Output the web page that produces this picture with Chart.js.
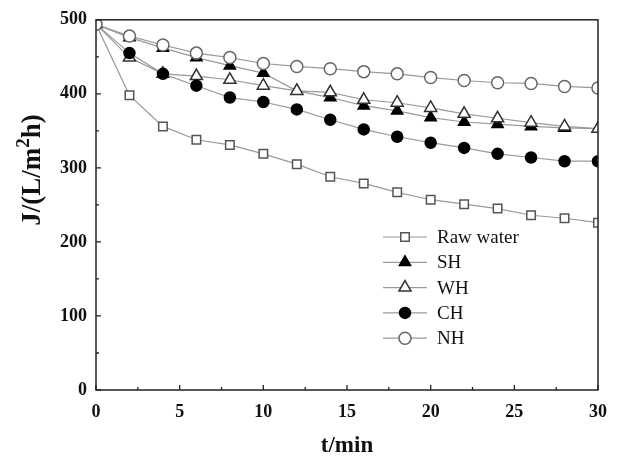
<!DOCTYPE html>
<html>
<head>
<meta charset="utf-8">
<script src="https://cdn.jsdelivr.net/npm/chart.js@4"></script>
<style>
  html, body { margin: 0; padding: 0; background: #fff; }
  #wrap { width: 619px; height: 457px; }
</style>
</head>
<body>
<div id="wrap"><canvas id="myChart"></canvas></div>
<script>
// time points (min)
const time = [0, 2, 4, 6, 8, 10, 12, 14, 16, 18, 20, 22, 24, 26, 28, 30];

// flux J, L/(m2 h)
const rawWater = [494, 398, 356, 338, 331, 319, 305, 288, 279, 267, 257, 251, 245, 236, 232, 226];
const sh = [494, 476, 462, 449, 438, 428, 404, 395, 384, 377, 368, 362, 359, 356, 354, 353];
const wh = [494, 449, 427, 424, 419, 411, 404, 402, 392, 388, 381, 373, 367, 361, 356, 353];
const ch = [494, 455, 427, 411, 395, 389, 379, 365, 352, 342, 334, 327, 319, 314, 309, 309];
const nh = [494, 478, 466, 455, 449, 441, 437, 434, 430, 427, 422, 418, 415, 414, 410, 408];

const xTicks = [0, 5, 10, 15, 20, 25, 30];
const yTicks = [0, 100, 200, 300, 400, 500];

const lineGrey = '#9a9a9a';
const serif = '"Liberation Serif", "Times New Roman", serif';

function series(label, values, style, radius, fill, edge, order) {
    return {
        label: label,
        data: values.map((v, i) => ({x: time[i], y: v})),
        borderColor: lineGrey,
        borderWidth: 1.2,
        pointStyle: style,
        pointRadius: radius,
        pointBackgroundColor: fill,
        pointBorderColor: edge,
        pointBorderWidth: 1.5,
        tension: 0,
        order: order
    };
}

// lower order ends up on top
const datasets = [
    series('Raw water', rawWater, 'rect', 6, '#fff', '#555', 5),
    series('SH', sh, 'triangle', 6.5, '#000', '#000', 4),
    series('WH', wh, 'triangle', 7, '#fff', '#333', 3),
    series('CH', ch, 'circle', 5.5, '#000', '#000', 2),
    series('NH', nh, 'circle', 6, '#fff', '#666', 1)
];

// frame, inward ticks, axis titles and the in-plot legend
const decor = {
    id: 'decor',
    afterDraw(chart) {
        const ctx = chart.ctx;
        const a = chart.chartArea;
        const xs = chart.scales.x, ys = chart.scales.y;
        ctx.save();
        ctx.strokeStyle = '#222';
        ctx.lineWidth = 1.5;
        ctx.strokeRect(a.left, a.top, a.right - a.left, a.bottom - a.top);

        ctx.lineWidth = 1.3;
        ctx.beginPath();
        for (let v = 0; v <= 30; v += 2.5) {
            const px = xs.getPixelForValue(v);
            const len = v % 5 === 0 ? 5 : 3;
            ctx.moveTo(px, a.bottom);
            ctx.lineTo(px, a.bottom - len);
        }
        for (let v = 0; v <= 500; v += 50) {
            const py = ys.getPixelForValue(v);
            const len = v % 100 === 0 ? 5 : 3;
            ctx.moveTo(a.left, py);
            ctx.lineTo(a.left + len, py);
        }
        ctx.stroke();

        // x title
        ctx.fillStyle = '#111';
        ctx.font = 'bold 23px ' + serif;
        ctx.textAlign = 'center';
        ctx.textBaseline = 'middle';
        ctx.fillText('t/min', (a.left + a.right) / 2, 446);

        // y title with superscript 2
        ctx.save();
        ctx.translate(30, 170);
        ctx.rotate(-Math.PI / 2);
        ctx.textAlign = 'left';
        ctx.textBaseline = 'alphabetic';
        const big = 'bold 27px ' + serif, small = 'bold 19px ' + serif;
        ctx.font = big;
        const w1 = ctx.measureText('J/(L/m').width;
        const w3 = ctx.measureText('h)').width;
        ctx.font = small;
        const w2 = ctx.measureText('2').width;
        let x0 = -(w1 + w2 + w3) / 2;
        const base = 10;
        ctx.font = big;
        ctx.fillText('J/(L/m', x0, base);
        ctx.font = small;
        ctx.fillText('2', x0 + w1, base - 11);
        ctx.font = big;
        ctx.fillText('h)', x0 + w1 + w2, base);
        ctx.restore();

        // legend
        ctx.font = '19px ' + serif;
        ctx.textAlign = 'left';
        ctx.textBaseline = 'middle';
        chart.data.datasets.forEach((ds, i) => {
            const y = 237 + i * 25.3;
            ctx.strokeStyle = lineGrey;
            ctx.lineWidth = 1.2;
            ctx.beginPath();
            ctx.moveTo(383, y);
            ctx.lineTo(427, y);
            ctx.stroke();
            ctx.fillStyle = ds.pointBackgroundColor;
            ctx.strokeStyle = ds.pointBorderColor;
            ctx.lineWidth = ds.pointBorderWidth;
            Chart.helpers.drawPoint(ctx, {
                pointStyle: ds.pointStyle,
                radius: ds.pointRadius,
                rotation: 0,
                borderWidth: ds.pointBorderWidth
            }, 405, y);
            ctx.fillStyle = '#111';
            ctx.fillText(ds.label, 437, y + 1);
        });
        ctx.restore();
    }
};

const ctx = document.getElementById('myChart').getContext('2d');
const myChart = new Chart(ctx, {
    type: 'line',
    data: { datasets: datasets },
    options: {
        responsive: true,
        maintainAspectRatio: false,
        animation: false,
        layout: { padding: { top: 19, right: 17, left: 0, bottom: 0 } },
        scales: {
            x: {
                type: 'linear',
                min: 0,
                max: 30,
                afterBuildTicks: s => { s.ticks = xTicks.map(v => ({value: v})); },
                afterFit: s => { s.height = 67; },
                grid: { display: false, drawTicks: false },
                border: { display: false },
                ticks: {
                    padding: 12,
                    color: '#111',
                    font: { family: serif, size: 18, weight: 'bold' }
                }
            },
            y: {
                min: 0,
                max: 500,
                afterBuildTicks: s => { s.ticks = yTicks.map(v => ({value: v})); },
                afterFit: s => { s.width = 96; },
                grid: { display: false, drawTicks: false },
                border: { display: false },
                ticks: {
                    padding: 9,
                    color: '#111',
                    font: { family: serif, size: 18, weight: 'bold' }
                }
            }
        },
        plugins: {
            legend: { display: false },
            tooltip: { enabled: false }
        }
    },
    plugins: [decor]
});
</script>
</body>
</html>
